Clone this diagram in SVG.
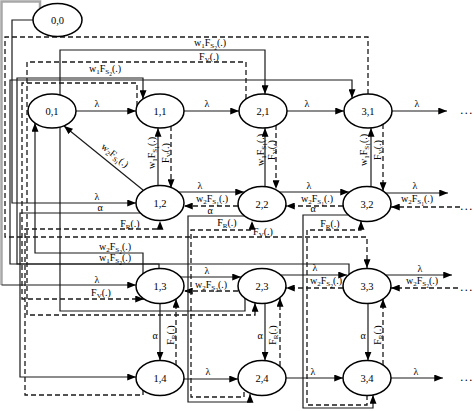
<svg xmlns="http://www.w3.org/2000/svg" width="474" height="411" viewBox="0 0 474 411">
<defs>
<marker id="ah" viewBox="0 0 10 8" refX="10" refY="4" markerWidth="9" markerHeight="7" markerUnits="userSpaceOnUse" orient="auto"><path d="M0,0 L10,4 L0,8 z" fill="#000"/></marker>
<style>
.e{fill:#fff;stroke:#000;stroke-width:1.5}
.s{fill:none;stroke:#1a1a1a;stroke-width:1.2}
.d{fill:none;stroke:#1a1a1a;stroke-width:1.3;stroke-dasharray:5 3}
.g{fill:none;stroke:#a8a8a8;stroke-width:2.5}
.a{marker-end:url(#ah)}
.t{font-family:"Liberation Serif","Times New Roman",serif;font-size:10px;fill:#000;text-anchor:middle}
.nl{font-family:"Liberation Serif","Times New Roman",serif;font-size:10.5px;fill:#000;text-anchor:middle}
.dots{font-family:"Liberation Serif",serif;font-size:12px;letter-spacing:1.5px;fill:#000;text-anchor:middle}
</style>
</defs>
<rect width="474" height="411" fill="#fff"/>

<g id="connectors">
<!-- row 1 lambda -->
<path class="s a" d="M76,111H136"/>
<path class="s a" d="M184,111H239"/>
<path class="s a" d="M287,111H344"/>
<path class="s a" d="M392,111H447"/>
<!-- row1/row2 verticals -->
<path class="s a" d="M158,186V128"/>
<path class="d a" d="M171,126V188"/>
<path class="s a" d="M265,186.5V128"/>
<path class="d a" d="M276,125V189"/>
<path class="s a" d="M371,187V128"/>
<path class="d a" d="M383,124V191"/>
<!-- row 2 -->
<path class="s a" d="M178,192H244"/>
<path class="d a" d="M238,206H184"/>
<path class="s a" d="M280,192H349"/>
<path class="d a" d="M343,206H286"/>
<path class="s a" d="M385,193H448"/>
<path class="d a" d="M460,207H391"/>
<path class="s a" d="M143,190L64,126"/>
<!-- row 3 -->
<path class="s a" d="M179,277H241"/>
<path class="d a" d="M238,291H184"/>
<path class="s a" d="M281,275H347"/>
<path class="d a" d="M343,288H286"/>
<path class="s a" d="M386,275H452"/>
<path class="d a" d="M458,288H391"/>
<!-- row3/row4 verticals -->
<path class="s a" d="M160,303.5V360.5"/>
<path class="d a" d="M176,365V299"/>
<path class="s a" d="M265,303.5V360.5"/>
<path class="d a" d="M280,366V298"/>
<path class="s a" d="M368,303.5V360.5"/>
<path class="d a" d="M383,365V299"/>
<!-- row 4 -->
<path class="s a" d="M184,379H238"/>
<path class="s a" d="M286,378H343"/>
<path class="s a" d="M391,378H443"/>
<!-- long routed connectors -->
<path class="g" d="M40,8.5V1.5H1.5V285"/>
<path class="s a" d="M1.5,285H136"/>
<path class="s a" d="M33,20H12V203H136"/>
<path class="d a" d="M368,94V37H5V237H367V268"/>
<path class="s a" d="M245,298V311H60V50H265V94"/>
<path class="d a" d="M246,99V62H27V315H255V303"/>
<path class="s a" d="M159,268.5V264H17V78H143V99"/>
<path class="s a" d="M349,274V264H10V80H352V98"/>
<path class="s a" d="M143,274V253H35V123"/>
<path class="d a" d="M137,106V83H22V299H144"/>
<path class="s a" d="M140,213H20V377H136"/>
<path class="d a" d="M143,390V395H25V229H160V221"/>
<path class="s a" d="M244,216H188V402H250V394"/>
<path class="d a" d="M244,392V397H191V230H252V221"/>
<path class="s a" d="M348,215H303V408H373V395"/>
<path class="d a" d="M367,395V405H307V230H361V221"/>

<!-- labels -->
<text class="t" x="210" y="46">w<tspan font-size="7" dy="2">1</tspan><tspan dy="-2">F</tspan><tspan font-size="7" dy="2">S</tspan><tspan font-size="5.5" dy="1.5">2</tspan><tspan dy="-3.5">(.)</tspan></text>
<text class="t" x="209" y="60">F<tspan font-size="7" dy="2">V</tspan><tspan dy="-2">(.)</tspan></text>
<text class="t" x="105" y="72">w<tspan font-size="7" dy="2">1</tspan><tspan dy="-2">F</tspan><tspan font-size="7" dy="2">S</tspan><tspan font-size="5.5" dy="1.5">2</tspan><tspan dy="-3.5">(.)</tspan></text>

<text class="t" x="97" y="107">λ</text>
<text class="t" x="207" y="107">λ</text>
<text class="t" x="307" y="107">λ</text>
<text class="t" x="417" y="107">λ</text>

<text class="t" transform="translate(155,153) rotate(-90)">w<tspan font-size="7" dy="2">1</tspan><tspan dy="-2">F</tspan><tspan font-size="7" dy="2">S</tspan><tspan font-size="5.5" dy="1.5">1</tspan><tspan dy="-3.5">(.)</tspan></text>
<text class="t" transform="translate(169,153) rotate(-90)">F<tspan font-size="7" dy="2">V</tspan><tspan dy="-2">(.)</tspan></text>
<text class="t" transform="translate(263.5,150) rotate(-90)">w<tspan font-size="7" dy="2">1</tspan><tspan dy="-2">F</tspan><tspan font-size="7" dy="2">S</tspan><tspan font-size="5.5" dy="1.5">1</tspan><tspan dy="-3.5">(.)</tspan></text>
<text class="t" transform="translate(274.5,150) rotate(-90)">F<tspan font-size="7" dy="2">V</tspan><tspan dy="-2">(.)</tspan></text>
<text class="t" transform="translate(366.5,150) rotate(-90)">w<tspan font-size="7" dy="2">1</tspan><tspan dy="-2">F</tspan><tspan font-size="7" dy="2">S</tspan><tspan font-size="5.5" dy="1.5">1</tspan><tspan dy="-3.5">(.)</tspan></text>
<text class="t" transform="translate(380.5,150) rotate(-90)">F<tspan font-size="7" dy="2">V</tspan><tspan dy="-2">(.)</tspan></text>

<text class="t" transform="translate(113,158) rotate(39.4)">w<tspan font-size="7" dy="2">2</tspan><tspan dy="-2">F</tspan><tspan font-size="7" dy="2">S</tspan><tspan font-size="5.5" dy="1.5">1</tspan><tspan dy="-3.5">(.)</tspan></text>

<text class="t" x="200" y="189">λ</text>
<text class="t" x="212" y="202">w<tspan font-size="7" dy="2">2</tspan><tspan dy="-2">F</tspan><tspan font-size="7" dy="2">S</tspan><tspan font-size="5.5" dy="1.5">1</tspan><tspan dy="-3.5">(.)</tspan></text>
<text class="t" x="309" y="189">λ</text>
<text class="t" x="317" y="202">w<tspan font-size="7" dy="2">2</tspan><tspan dy="-2">F</tspan><tspan font-size="7" dy="2">S</tspan><tspan font-size="5.5" dy="1.5">1</tspan><tspan dy="-3.5">(.)</tspan></text>
<text class="t" x="415" y="189">λ</text>
<text class="t" x="417" y="202">w<tspan font-size="7" dy="2">2</tspan><tspan dy="-2">F</tspan><tspan font-size="7" dy="2">S</tspan><tspan font-size="5.5" dy="1.5">1</tspan><tspan dy="-3.5">(.)</tspan></text>
<text class="t" x="210" y="214">α</text>
<text class="t" x="313" y="212">α</text>
<text class="t" x="130" y="227">F<tspan font-size="7" dy="2">R</tspan><tspan dy="-2">(.)</tspan></text>
<text class="t" x="227" y="226">F<tspan font-size="7" dy="2">R</tspan><tspan dy="-2">(.)</tspan></text>
<text class="t" x="330" y="227">F<tspan font-size="7" dy="2">R</tspan><tspan dy="-2">(.)</tspan></text>
<text class="t" x="263" y="235">F<tspan font-size="7" dy="2">V</tspan><tspan dy="-2">(.)</tspan></text>

<text class="t" x="97" y="200">λ</text>
<text class="t" x="100" y="211">α</text>
<text class="t" x="115" y="250">w<tspan font-size="7" dy="2">2</tspan><tspan dy="-2">F</tspan><tspan font-size="7" dy="2">S</tspan><tspan font-size="5.5" dy="1.5">2</tspan><tspan dy="-3.5">(.)</tspan></text>
<text class="t" x="115" y="261">w<tspan font-size="7" dy="2">1</tspan><tspan dy="-2">F</tspan><tspan font-size="7" dy="2">S</tspan><tspan font-size="5.5" dy="1.5">2</tspan><tspan dy="-3.5">(.)</tspan></text>

<text class="t" x="97" y="283">λ</text>
<text class="t" x="101" y="296">F<tspan font-size="7" dy="2">V</tspan><tspan dy="-2">(.)</tspan></text>
<text class="t" x="207" y="274">λ</text>
<text class="t" x="211" y="288">w<tspan font-size="7" dy="2">2</tspan><tspan dy="-2">F</tspan><tspan font-size="7" dy="2">S</tspan><tspan font-size="5.5" dy="1.5">2</tspan><tspan dy="-3.5">(.)</tspan></text>
<text class="t" x="315" y="271">λ</text>
<text class="t" x="326" y="284">w<tspan font-size="7" dy="2">2</tspan><tspan dy="-2">F</tspan><tspan font-size="7" dy="2">S</tspan><tspan font-size="5.5" dy="1.5">2</tspan><tspan dy="-3.5">(.)</tspan></text>
<text class="t" x="420" y="272">λ</text>
<text class="t" x="422" y="284">w<tspan font-size="7" dy="2">2</tspan><tspan dy="-2">F</tspan><tspan font-size="7" dy="2">S</tspan><tspan font-size="5.5" dy="1.5">2</tspan><tspan dy="-3.5">(.)</tspan></text>

<text class="t" x="155" y="339">α</text>
<text class="t" transform="translate(173.5,335) rotate(-90)">F<tspan font-size="7" dy="2">R</tspan><tspan dy="-2">(.)</tspan></text>
<text class="t" x="260" y="339">α</text>
<text class="t" transform="translate(275.5,335) rotate(-90)">F<tspan font-size="7" dy="2">R</tspan><tspan dy="-2">(.)</tspan></text>
<text class="t" x="363" y="339">α</text>
<text class="t" transform="translate(380.5,335) rotate(-90)">F<tspan font-size="7" dy="2">R</tspan><tspan dy="-2">(.)</tspan></text>

<text class="t" x="208" y="375">λ</text>
<text class="t" x="313" y="375">λ</text>
<text class="t" x="416" y="375">λ</text>

<text class="dots" x="467" y="114">...</text>
<text class="dots" x="467" y="210">...</text>
<text class="dots" x="467" y="291">...</text>
<text class="dots" x="467" y="381">...</text>
</g>

<g id="n00"><ellipse class="e" cx="57.5" cy="20" rx="24.5" ry="16.5"/><text class="nl" x="57.5" y="23.5">0,0</text></g>
<g id="n01"><ellipse class="e" cx="52" cy="111" rx="24" ry="17"/><text class="nl" x="52" y="114.5">0,1</text></g>
<g id="n11"><ellipse class="e" cx="160" cy="111" rx="24" ry="17"/><text class="nl" x="160" y="114.5">1,1</text></g>
<g id="n21"><ellipse class="e" cx="263" cy="111" rx="24" ry="17"/><text class="nl" x="263" y="114.5">2,1</text></g>
<g id="n31"><ellipse class="e" cx="368" cy="111" rx="24" ry="17"/><text class="nl" x="368" y="114.5">3,1</text></g>
<g id="n12"><ellipse class="e" cx="160" cy="203" rx="24" ry="17.5"/><text class="nl" x="160" y="206.5">1,2</text></g>
<g id="n22"><ellipse class="e" cx="262" cy="204" rx="24" ry="17.5"/><text class="nl" x="262" y="207.5">2,2</text></g>
<g id="n32"><ellipse class="e" cx="367" cy="204" rx="24" ry="17.5"/><text class="nl" x="367" y="207.5">3,2</text></g>
<g id="n13"><ellipse class="e" cx="160" cy="286" rx="24" ry="17.5"/><text class="nl" x="160" y="289.5">1,3</text></g>
<g id="n23"><ellipse class="e" cx="262" cy="286" rx="24" ry="17.5"/><text class="nl" x="262" y="289.5">2,3</text></g>
<g id="n33"><ellipse class="e" cx="367" cy="286" rx="24" ry="17.5"/><text class="nl" x="367" y="289.5">3,3</text></g>
<g id="n14"><ellipse class="e" cx="160" cy="378" rx="24" ry="17.5"/><text class="nl" x="160" y="381.5">1,4</text></g>
<g id="n24"><ellipse class="e" cx="262" cy="378" rx="24" ry="17.5"/><text class="nl" x="262" y="381.5">2,4</text></g>
<g id="n34"><ellipse class="e" cx="367" cy="378" rx="24" ry="17.5"/><text class="nl" x="367" y="381.5">3,4</text></g>
</svg>
